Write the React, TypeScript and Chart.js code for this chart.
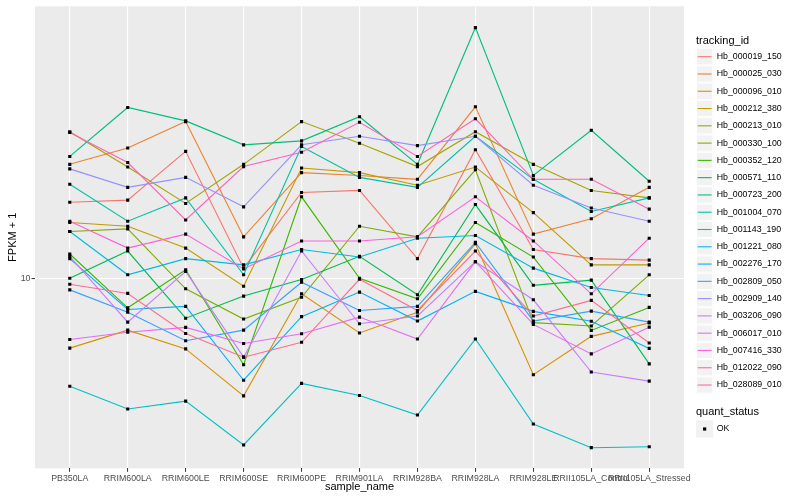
import { useEffect, useRef } from 'react';
import { Chart, registerables } from 'chart.js';

Chart.register(...registerables);

const categories = [
  'PB350LA', 'RRIM600LA', 'RRIM600LE', 'RRIM600SE', 'RRIM600PE', 'RRIM901LA',
  'RRIM928BA', 'RRIM928LA', 'RRIM928LE', 'RRII105LA_Control', 'RRII105LA_Stressed',
];

const trackingIds = [
  'Hb_000019_150', 'Hb_000025_030', 'Hb_000096_010', 'Hb_000212_380', 'Hb_000213_010',
  'Hb_000330_100', 'Hb_000352_120', 'Hb_000571_110', 'Hb_000723_200', 'Hb_001004_070',
  'Hb_001143_190', 'Hb_001221_080', 'Hb_002276_170', 'Hb_002809_050', 'Hb_002909_140',
  'Hb_003206_090', 'Hb_006017_010', 'Hb_007416_330', 'Hb_012022_090', 'Hb_028089_010',
];

const seriesColors = [
  '#F8766D', '#EA8331', '#D89000', '#C09B00', '#A3A500', '#7CAE00', '#39B600', '#00BB4E',
  '#00BF7D', '#00C1A3', '#00BFC4', '#00BAE0', '#00B0F6', '#35A2FF', '#9590FF', '#C77CFF',
  '#E76BF3', '#FA62DB', '#FF62BC', '#FF6C91',
];

const yTicks = [10];
const quantStatus = ['OK'];

const hb000019_150 = [15.5, 15.7, 20.8, 10.6, 16.4, 16.6, 11.2, 21.0, 11.8, 11.2, 11.1];
const hb000025_030 = [19.3, 21.2, 24.7, 12.7, 18.4, 18.1, 17.7, 26.9, 12.9, 14.1, 16.9];
const hb000096_010 = [6.68, 7.41, 6.65, 5.07, 9.14, 7.29, 8.22, 12.2, 5.73, 7.15, 7.72];
const hb000212_380 = [13.8, 13.5, 11.9, 9.55, 18.9, 18.4, 17.1, 19.0, 14.6, 10.8, 10.8];
const hb000213_010 = [23.3, 19.0, 15.4, 19.3, 24.7, 21.8, 19.05, 23.3, 19.3, 16.6, 15.9];
const hb000330_100 = [13.1, 13.3, 9.41, 7.9, 8.96, 13.5, 12.7, 18.7, 7.74, 7.59, 10.2];
const hb000352_120 = [11.5, 8.43, 10.5, 6.07, 16.0, 10.0, 8.88, 13.8, 11.3, 7.4, 8.45];
const hb000571_110 = [10.0, 11.7, 7.94, 9.02, 9.93, 11.35, 9.09, 15.3, 9.6, 9.89, 6.1];
const hb000723_200 = [20.2, 26.8, 24.8, 21.6, 22.1, 25.4, 19.3, 42.5, 18.1, 23.5, 17.5];
const hb001004_070 = [17.2, 13.9, 15.9, 10.2, 21.4, 17.9, 16.9, 22.7, 17.7, 14.7, 15.9];
const hb001143_190 = [5.36, 4.7, 4.92, 3.82, 5.45, 5.08, 4.54, 7.04, 4.31, 3.76, 3.78];
const hb001221_080 = [13.1, 10.2, 11.2, 10.8, 11.8, 11.3, 12.6, 12.8, 10.6, 9.48, 9.05];
const hb002276_170 = [11.2, 8.35, 8.5, 5.55, 8.01, 9.23, 7.81, 9.27, 8.26, 7.8, 6.67];
const hb002809_050 = [9.35, 8.22, 6.97, 7.41, 9.77, 8.3, 8.5, 12.3, 7.81, 8.27, 7.76];
const hb002909_140 = [18.8, 16.9, 17.9, 15.1, 21.6, 22.7, 21.5, 22.7, 17.1, 15.0, 13.9];
const hb003206_090 = [11.35, 7.76, 10.4, 6.34, 11.7, 7.69, 8.04, 11.0, 8.83, 5.82, 5.52];
const hb006017_010 = [7.02, 7.32, 7.53, 6.86, 7.26, 7.99, 7.04, 11.0, 7.66, 6.46, 7.54];
const hb007416_330 = [13.9, 11.9, 12.9, 10.55, 12.4, 12.4, 12.7, 16.0, 12.4, 9.14, 12.6];
const hb012022_090 = [23.2, 19.5, 14.0, 19.05, 20.7, 24.6, 20.2, 25.1, 17.7, 17.7, 14.9];
const hb028089_010 = [9.66, 9.16, 7.27, 6.34, 6.91, 9.94, 8.3, 11.7, 8.04, 8.8, 6.88];

const seriesValues = [
  hb000019_150, hb000025_030, hb000096_010, hb000212_380, hb000213_010,
  hb000330_100, hb000352_120, hb000571_110, hb000723_200, hb001004_070,
  hb001143_190, hb001221_080, hb002276_170, hb002809_050, hb002909_140,
  hb003206_090, hb006017_010, hb007416_330, hb012022_090, hb028089_010,
];

const FONT = '"Liberation Sans", Arial, Helvetica, sans-serif';

const panelBg = {
  id: 'panelBg',
  beforeDraw(chart: any) {
    const { ctx, chartArea } = chart;
    ctx.save();
    ctx.fillStyle = '#EBEBEB';
    ctx.fillRect(chartArea.left, chartArea.top, chartArea.right - chartArea.left, chartArea.bottom - chartArea.top);
    ctx.restore();
  },
};

const ggLegend = {
  id: 'ggLegend',
  afterDraw(chart: any) {
    const ctx = chart.ctx as CanvasRenderingContext2D;
    const keyH = 17.28;
    const keyX = 696;
    ctx.save();
    ctx.textAlign = 'left';
    ctx.textBaseline = 'middle';
    ctx.fillStyle = '#000';
    ctx.font = `11px ${FONT}`;
    ctx.fillText('tracking_id', 696, 40.7);
    trackingIds.forEach((id, i) => {
      const cy = 56.7 + i * keyH;
      ctx.fillStyle = '#F2F2F2';
      ctx.fillRect(keyX, cy - keyH / 2, keyH, keyH);
      ctx.strokeStyle = '#FFFFFF';
      ctx.lineWidth = 1;
      ctx.strokeRect(keyX + 0.5, cy - keyH / 2 + 0.5, keyH - 1, keyH - 1);
      ctx.strokeStyle = seriesColors[i];
      ctx.lineWidth = 1.1;
      ctx.beginPath();
      ctx.moveTo(keyX + 1.7, cy);
      ctx.lineTo(keyX + keyH - 1.7, cy);
      ctx.stroke();
      ctx.fillStyle = '#000';
      ctx.font = `8.8px ${FONT}`;
      ctx.fillText(id, 716.7, cy);
    });
    ctx.font = `11px ${FONT}`;
    ctx.fillStyle = '#000';
    ctx.fillText('quant_status', 696, 411.7);
    quantStatus.forEach((q, i) => {
      const cy = 429 + i * keyH;
      ctx.fillStyle = '#F2F2F2';
      ctx.fillRect(keyX, cy - keyH / 2, keyH, keyH);
      ctx.fillStyle = '#000';
      ctx.fillRect(keyX + keyH / 2 - 1.6, cy - 1.6, 3.2, 3.2);
      ctx.font = `8.8px ${FONT}`;
      ctx.fillText(q, 716.7, cy);
    });
    ctx.restore();
  },
};

export default function App() {
  const ref = useRef<HTMLCanvasElement>(null);

  useEffect(() => {
    const canvas = ref.current;
    if (!canvas) return;
    const lineSets = seriesValues.map((vals, i) => ({
      label: trackingIds[i],
      data: vals.map((v, j) => ({ x: j, y: v })),
      borderColor: seriesColors[i],
      backgroundColor: seriesColors[i],
      borderWidth: 1.1,
      pointRadius: 0,
      pointHoverRadius: 0,
      fill: false,
      tension: 0,
      order: seriesValues.length - i,
    }));
    const pointSet = {
      label: 'OK',
      data: seriesValues.flatMap((vals) => vals.map((v, j) => ({ x: j, y: v }))),
      showLine: false,
      pointStyle: 'rect',
      pointRadius: 2.2,
      pointHoverRadius: 2.2,
      pointBackgroundColor: '#000000',
      pointBorderWidth: 0,
      borderColor: '#000000',
      backgroundColor: '#000000',
      order: -1,
    };
    const chart = new Chart(canvas, {
      type: 'line',
      data: { datasets: [...lineSets, pointSet] as any },
      options: {
        responsive: false,
        animation: false,
        events: [],
        layout: { padding: { top: 5, right: 116, left: 0, bottom: 0 } },
        plugins: {
          legend: { display: false },
          tooltip: { enabled: false },
        },
        scales: {
          x: {
            type: 'linear',
            min: -0.6,
            max: categories.length - 1 + 0.6,
            afterFit: (s: any) => { s.height = 31.7; },
            border: { display: false },
            grid: { color: '#FFFFFF', lineWidth: 1.1, tickColor: '#333333', tickLength: 3.5, tickWidth: 1 },
            ticks: {
              stepSize: 1,
              includeBounds: false,
              autoSkip: false,
              maxRotation: 0,
              minRotation: 0,
              padding: 1,
              color: '#4D4D4D',
              font: { family: FONT, size: 8.8 },
              callback: (v: any) => categories[v as number] ?? '',
            },
            title: {
              display: true,
              text: 'sample_name',
              color: '#000000',
              font: { family: FONT, size: 11 },
              padding: { top: 0, bottom: 6 },
            },
          },
          y: {
            type: 'logarithmic',
            min: 3.338,
            max: 48.06,
            afterFit: (s: any) => { s.width = 35; },
            afterBuildTicks: (s: any) => { s.ticks = yTicks.map((v) => ({ value: v })); },
            border: { display: false },
            grid: { color: '#FFFFFF', lineWidth: 1.1, tickColor: '#333333', tickLength: 3.5, tickWidth: 1 },
            ticks: {
              padding: 1,
              color: '#4D4D4D',
              font: { family: FONT, size: 8.8 },
              callback: (v: any) => String(v),
            },
            title: {
              display: true,
              text: 'FPKM + 1',
              color: '#000000',
              font: { family: FONT, size: 11 },
              padding: { top: 6, bottom: 0 },
            },
          },
        },
      } as any,
      plugins: [panelBg, ggLegend],
    });
    return () => chart.destroy();
  }, []);

  return (
    <div style={{ position: 'fixed', left: 0, top: 0, width: 800, height: 500, background: '#FFFFFF' }}>
      <canvas ref={ref} width={800} height={500} style={{ display: 'block', width: 800, height: 500 }} />
    </div>
  );
}
